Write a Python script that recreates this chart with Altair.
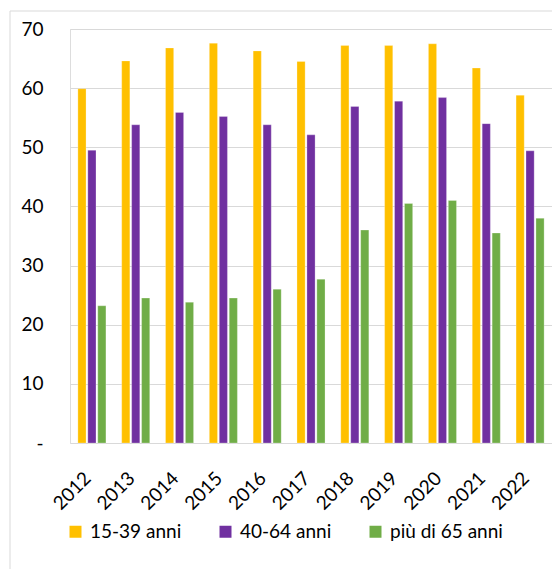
import altair as alt
import pandas as pd

years = [str(y) for y in range(2012, 2023)]
s1 = [59.9, 64.6, 66.8, 67.6, 66.3, 64.5, 67.2, 67.2, 67.5, 63.4, 58.8]
s2 = [49.5, 53.8, 55.9, 55.2, 53.8, 52.1, 56.9, 57.8, 58.4, 54.0, 49.4]
s3 = [23.2, 24.5, 23.8, 24.5, 26.0, 27.7, 36.0, 40.5, 41.0, 35.5, 38.0]
series = ["15-39 anni", "40-64 anni", "più di 65 anni"]
colors = ["#FFC000", "#7030A0", "#70AD47"]

rows = []
for name, vals in zip(series, [s1, s2, s3]):
    for y, v in zip(years, vals):
        rows.append({"anno": y, "serie": name, "valore": v})
df = pd.DataFrame(rows)

FONT = "Lato"
W, H = 482, 414

bars = alt.Chart(df).mark_bar(stroke="#ffffff", strokeOpacity=0.5, strokeWidth=0.5).encode(
    x=alt.X("anno:N", sort=years,
            scale=alt.Scale(paddingInner=0.36, paddingOuter=0.18),
            axis=alt.Axis(title=None, labelAngle=-45, labelAlign="right", labelBaseline="middle",
                          labelPadding=32, labelOffset=-4, ticks=False, domain=False, grid=False,
                          labelFontSize=19, labelFont=FONT, labelColor="#000000")),
    xOffset=alt.XOffset("serie:N", sort=series, scale=alt.Scale(paddingInner=0.18)),
    y=alt.Y("valore:Q", scale=alt.Scale(domain=[0, 70], nice=False),
            axis=alt.Axis(title=None, values=[0, 10, 20, 30, 40, 50, 60, 70],
                          labelExpr="datum.value == 0 ? '-' : datum.label",
                          labelPadding=27, ticks=False, domain=False,
                          grid=True, gridColor="#d9d9d9", gridWidth=1,
                          labelFontSize=19, labelFont=FONT, labelColor="#000000")),
    color=alt.Color("serie:N", sort=series,
                    scale=alt.Scale(domain=series, range=colors),
                    legend=alt.Legend(title=None, orient="none", legendX=-4, legendY=493,
                                      direction="horizontal", columns=3, gridAlign="all",
                                      columnPadding=13, symbolType="square", symbolSize=144,
                                      symbolStrokeWidth=0, labelFontSize=19, labelFont=FONT,
                                      labelColor="#000000", labelOffset=5)),
)

frame = alt.Chart(pd.DataFrame({"a": [0]})).mark_rect(
    fill="#ffffff", fillOpacity=0, stroke="#d9d9d9", strokeWidth=1
).encode(
    x=alt.value(-60), x2=alt.value(W + 40), y=alt.value(-18), y2=alt.value(H + 200)
)

chart = alt.layer(frame, bars).properties(
    width=W, height=H,
    autosize=alt.AutoSizeParams(type="none"),
    padding={"left": 62, "top": 21, "right": 0, "bottom": 126},
).configure_view(stroke=None).configure(background="#ffffff")

chart.save("out.html", embed_options={"renderer": "svg", "actions": False})
